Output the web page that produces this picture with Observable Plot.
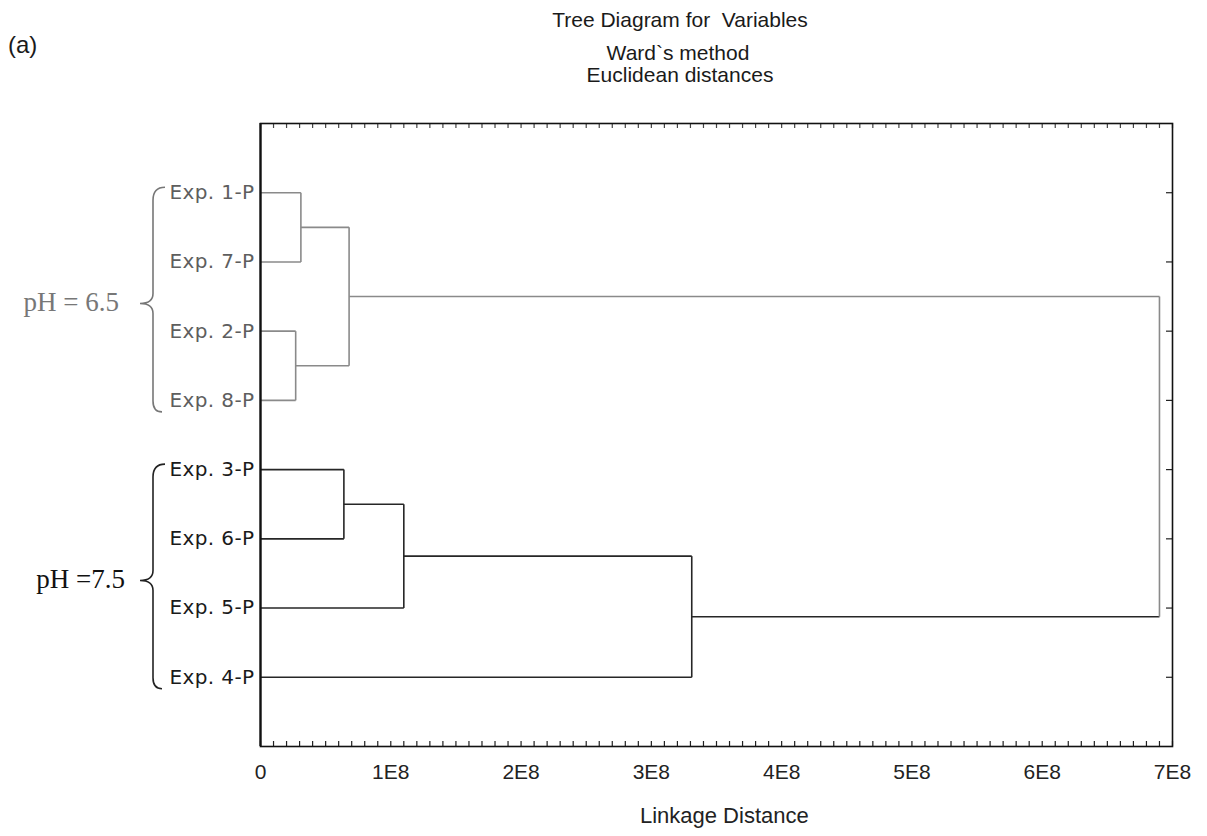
<!DOCTYPE html>
<html>
<head>
<meta charset="utf-8">
<script src="https://cdn.jsdelivr.net/npm/d3@7"></script>
<script src="https://cdn.jsdelivr.net/npm/@observablehq/plot@0.6"></script>
<style>
  body { margin: 0; background: #fff; }
  #wrap { position: relative; width: 1207px; height: 836px; overflow: hidden; }
  .t { position: absolute; font-family: "Liberation Sans", Arial, sans-serif; color: #1a1a1a; white-space: nowrap; line-height: 1; }
  #chart { position: absolute; left: 0; top: 0; }
</style>
</head>
<body>
<div id="wrap">
  <div class="t" style="left:8px; top:33px; font-size:24px;">(a)</div>
  <div class="t" style="left:680px; top:9px; transform:translateX(-50%); font-size:21px;">Tree Diagram for&nbsp; Variables</div>
  <div class="t" style="left:678px; top:42px; transform:translateX(-50%); font-size:21px;">Ward`s method</div>
  <div class="t" style="left:680px; top:64px; transform:translateX(-50%); font-size:21px;">Euclidean distances</div>
  <div id="chart"></div>
</div>
<script>
// ---- data ----
const leaves = ["Exp. 1-P", "Exp. 7-P", "Exp. 2-P", "Exp. 8-P", "Exp. 3-P", "Exp. 6-P", "Exp. 5-P", "Exp. 4-P"];
const leafGroup = [0, 0, 0, 0, 1, 1, 1, 1];
const mergeA = ["Exp. 1-P", "Exp. 2-P", "C1", "Exp. 3-P", "C4", "C5", "C3"];
const mergeB = ["Exp. 7-P", "Exp. 8-P", "C2", "Exp. 6-P", "Exp. 5-P", "Exp. 4-P", "C6"];
const mergeDist = [0.31e8, 0.27e8, 0.68e8, 0.64e8, 1.10e8, 3.31e8, 6.90e8];
const groupLabels = ["pH = 6.5", "pH =7.5"];
const groupFirst = [1, 5];
const groupLast = [4, 8];
const xTicks = [0, 1e8, 2e8, 3e8, 4e8, 5e8, 6e8, 7e8];
const xTickLabels = ["0", "1E8", "2E8", "3E8", "4E8", "5E8", "6E8", "7E8"];
const xTitle = "Linkage Distance";

// ---- build dendrogram segments ----
const groupColors = ["#8a8a8a", "#262626"];
const textColors = ["#5e5e5e", "#1a1a1a"];
const nodes = new Map();
leaves.forEach((name, i) => nodes.set(name, {x: 0, y: i + 1, g: leafGroup[i]}));
const segs = [];
mergeDist.forEach((dist, k) => {
  const a = nodes.get(mergeA[k]), b = nodes.get(mergeB[k]);
  const g = a.g === b.g ? a.g : 0;
  segs.push({x1: a.x, y1: a.y, x2: dist, y2: a.y, g: a.g});
  segs.push({x1: b.x, y1: b.y, x2: dist, y2: b.y, g: b.g});
  segs.push({x1: dist, y1: a.y, x2: dist, y2: b.y, g});
  nodes.set("C" + (k + 1), {x: dist, y: (a.y + b.y) / 2, g});
});

const minorTicks = d3.range(0, 7e8 + 1, 1e7);
const leafIdx = leaves.map((_, i) => i + 1);
const W = 1207, H = 836, mT = 123, mB = 90, mL = 260, mR = 35;
const plotH = H - mT - mB, plotW = W - mL - mR;

// braces + group labels as a render function using the scales
function braces(index, scales) {
  const g = d3.create("svg:g");
  groupLabels.forEach((lab, i) => {
    const x0 = scales.x(0);
    const yTop = scales.y(groupFirst[i]) - 5;
    const yBot = scales.y(groupLast[i]) + 12;
    const ym = (yTop + yBot) / 2 + 4;
    const xb = x0 - 107;
    const p = d3.path();
    p.moveTo(xb + 12, yTop);
    p.quadraticCurveTo(xb, yTop, xb, yTop + 13);
    p.lineTo(xb, ym - 10);
    p.quadraticCurveTo(xb, ym, xb - 13, ym);
    p.quadraticCurveTo(xb, ym, xb, ym + 10);
    p.lineTo(xb, yBot - 11);
    p.quadraticCurveTo(xb, yBot, xb + 9, yBot);
    g.append("path").attr("d", p.toString()).attr("fill", "none")
      .attr("stroke", i === 0 ? "#777" : "#222").attr("stroke-width", 1.6);
    g.append("text").attr("x", xb - 20 - (i === 0 ? 14 : 8)).attr("y", ym + 1)
      .attr("text-anchor", "end").attr("dominant-baseline", "middle")
      .attr("font-family", "'Liberation Serif', 'Times New Roman', serif")
      .attr("font-size", 27).attr("fill", i === 0 ? "#777" : "#111")
      .text(lab);
  });
  return g.node();
}

const sans = "'Liberation Sans', Arial, sans-serif";
const chart = Plot.plot({
  width: W, height: H,
  marginTop: mT, marginBottom: mB, marginLeft: mL, marginRight: mR,
  x: {domain: [0, 7e8], axis: null},
  y: {domain: [0, 9], reverse: true, axis: null},
  style: {background: "transparent"},
  marks: [
    Plot.link(segs, {x1: "x1", y1: "y1", x2: "x2", y2: "y2", stroke: d => groupColors[d.g], strokeWidth: 1.6}),
    Plot.ruleX(minorTicks, {x: d => d, insetTop: plotH - 5, stroke: "#222", strokeWidth: 1.2}),
    Plot.ruleX(minorTicks, {x: d => d, insetBottom: plotH - 5, stroke: "#444", strokeWidth: 1.2}),
    Plot.ruleY(leafIdx, {y: d => d, insetLeft: plotW - 6, stroke: "#222", strokeWidth: 1.2}),
    Plot.frame({stroke: "#111", strokeWidth: 1.6}),
    Plot.ruleX([0], {stroke: "#111", strokeWidth: 2.2}),
    Plot.text(xTicks, {x: d => d, frameAnchor: "bottom", dy: 32, text: (d, i) => xTickLabels[i],
      fontSize: 21, fontFamily: sans, fill: "#222"}),
    Plot.text([xTitle], {x: 3.56e8, frameAnchor: "bottom", dy: 76, text: d => d,
      fontSize: 22, fontFamily: sans, fill: "#222"}),
    Plot.text(leaves, {x: 0, y: (d, i) => i + 1, text: d => d, textAnchor: "end", dx: -6,
      fontSize: 20, fontFamily: "'DejaVu Sans', Verdana, sans-serif",
      fill: (d, i) => textColors[leafGroup[i]]}),
    braces
  ]
});
// widen the leaf labels' letter spacing slightly to match the reference
chart.querySelectorAll("text").forEach(t => {
  if (leaves.includes(t.textContent)) t.setAttribute("letter-spacing", "0.4");
});
document.getElementById("chart").appendChild(chart);
</script>
</body>
</html>
